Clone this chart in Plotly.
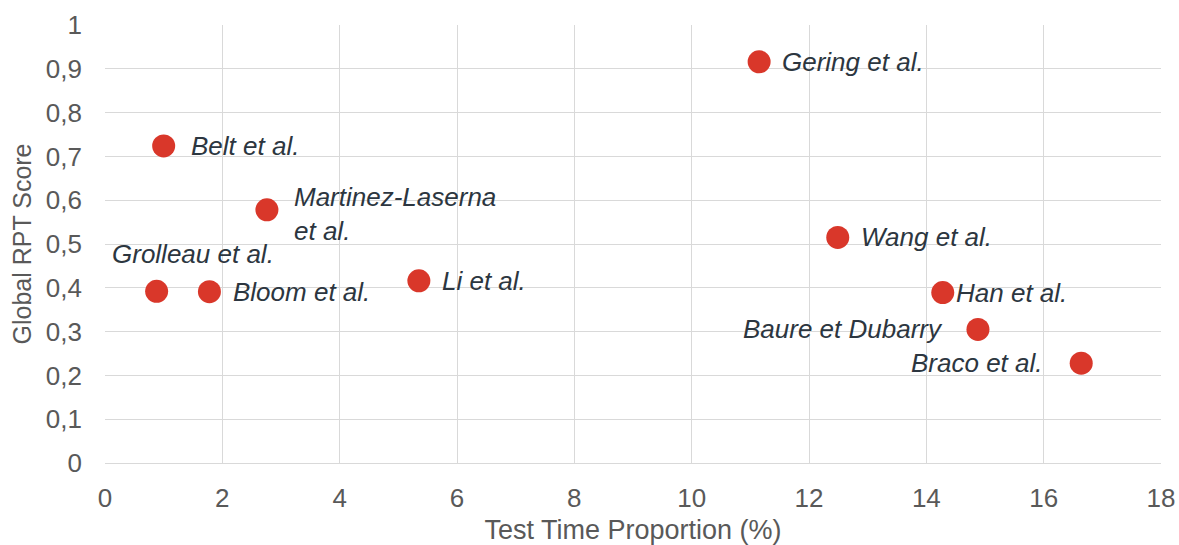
import plotly.graph_objects as go

# Studies compared: share of total test time spent on RPTs vs. global RPT score
studies = ["Gering et al.", "Belt et al.", "Martinez-Laserna<br>et al.", "Wang et al.",
           "Grolleau et al.", "Bloom et al.", "Li et al.", "Han et al.",
           "Baure et Dubarry", "Braco et al."]
test_time_pct = [11.15, 1.0, 2.76, 12.49, 0.88, 1.78, 5.35, 14.28, 14.88, 16.64]
rpt_score = [0.916, 0.724, 0.578, 0.515, 0.392, 0.391, 0.416, 0.389, 0.305, 0.228]

# Label placement per study: (xanchor, xshift px, yshift px)
label_place = {
    "Gering et al.": ("left", 21, 0),
    "Belt et al.": ("left", 25, 0),
    "Martinez-Laserna<br>et al.": ("left", 25, -4),
    "Wang et al.": ("left", 21, 0),
    "Grolleau et al.": ("left", -47, 37),
    "Bloom et al.": ("left", 22, 0),
    "Li et al.": ("left", 21, 0),
    "Han et al.": ("left", 11, 0),
    "Baure et Dubarry": ("right", -33, 0),
    "Braco et al.": ("right", -36, 0),
}

FONT = "Liberation Sans, Arial, sans-serif"
GRID = "#d9d9d9"
TICK_GREY = "#595959"

fig = go.Figure()
fig.add_trace(go.Scatter(
    x=test_time_pct, y=rpt_score, mode="markers",
    marker=dict(size=23, color="#d9372a", line=dict(width=0)),
    hovertext=studies, showlegend=False,
))

for name, xv, yv in zip(studies, test_time_pct, rpt_score):
    anchor, dx, dy = label_place[name]
    fig.add_annotation(
        x=xv, y=yv, xref="x", yref="y", text=f"<i>{name}</i>",
        showarrow=False, xanchor=anchor, yanchor="middle", align="left",
        xshift=dx, yshift=dy,
        font=dict(family=FONT, size=26, color="#2c3640"),
    )

fig.update_layout(
    width=1179, height=545,
    margin=dict(l=105, r=18, t=25, b=82),
    paper_bgcolor="white", plot_bgcolor="white",
    separators=", ",
    font=dict(family=FONT, color=TICK_GREY),
    xaxis=dict(
        range=[0, 18], dtick=2, tick0=0, automargin=False,
        showgrid=True, gridcolor=GRID, gridwidth=1,
        zeroline=False, showline=True, linecolor=GRID, linewidth=1,
        ticks="", ticklabelstandoff=12,
        tickfont=dict(size=26, color=TICK_GREY),
        title=dict(text="Test Time Proportion (%)", standoff=17,
                   font=dict(size=27, color=TICK_GREY)),
    ),
    yaxis=dict(
        range=[0, 1], dtick=0.1, tick0=0, automargin=False,
        showgrid=True, gridcolor=GRID, gridwidth=1,
        zeroline=False, showline=False,
        ticks="", ticklabelstandoff=22,
        tickfont=dict(size=26, color=TICK_GREY),
        title=dict(text="Global RPT Score", standoff=7,
                   font=dict(size=25, color=TICK_GREY)),
    ),
)

fig.write_html("out.html")
